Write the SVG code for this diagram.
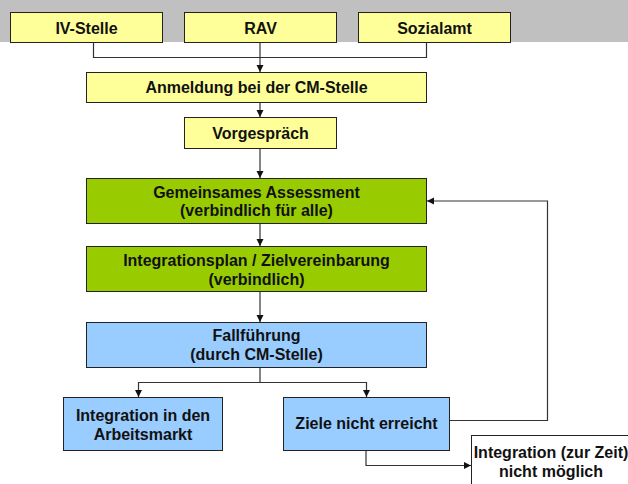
<svg xmlns="http://www.w3.org/2000/svg" width="628" height="484" viewBox="0 0 628 484">
  <style>
    .box { stroke: #222; stroke-width: 1; }
    .y { fill: #FFFF99; }
    .g { fill: #99CC00; }
    .b { fill: #99CCFF; }
    .w { fill: #FFFFFF; }
    text { font-family: "Liberation Sans", Arial, sans-serif; font-weight: bold; font-size: 16px; fill: #111; text-anchor: middle; }
    .con { fill: none; stroke: #333; stroke-width: 1.2; }
  </style>
  <defs>
    <marker id="arr" markerWidth="8" markerHeight="8" refX="7" refY="4" orient="auto" markerUnits="userSpaceOnUse">
      <path d="M0,0.5 L7,4 L0,7.5 Z" fill="#111"/>
    </marker>
  </defs>
  <rect x="0" y="0" width="628" height="42" fill="#C0C0C0"/>

  <g id="connectors">
    <path class="con" d="M93.5,42 V57.5 H426.5 V42"/>
    <path class="con" d="M260,42 V72" marker-end="url(#arr)"/>
    <path class="con" d="M260,102 V117" marker-end="url(#arr)"/>
    <path class="con" d="M260,148 V178" marker-end="url(#arr)"/>
    <path class="con" d="M260,224 V246" marker-end="url(#arr)"/>
    <path class="con" d="M260,292 V322" marker-end="url(#arr)"/>
    <path class="con" d="M260,367 V382.5 H138.5 V397" marker-end="url(#arr)"/>
    <path class="con" d="M260,382.5 H366.5 V397" marker-end="url(#arr)"/>
    <path class="con" d="M449,420.5 H547.5 V201 H427" marker-end="url(#arr)"/>
    <path class="con" d="M366,450 V465.5 H471" marker-end="url(#arr)"/>
  </g>

  <g id="iv-stelle">
    <rect class="box y" x="10.5" y="12.5" width="152" height="30"/>
    <text x="86.5" y="33.5">IV-Stelle</text>
  </g>
  <g id="rav">
    <rect class="box y" x="184.5" y="12.5" width="152" height="30"/>
    <text x="260.5" y="33.5">RAV</text>
  </g>
  <g id="sozialamt">
    <rect class="box y" x="358.5" y="12.5" width="152" height="30"/>
    <text x="434.5" y="33.5">Sozialamt</text>
  </g>
  <g id="anmeldung">
    <rect class="box y" x="86.5" y="72.5" width="340" height="30"/>
    <text x="256.5" y="93">Anmeldung bei der CM-Stelle</text>
  </g>
  <g id="vorgespraech">
    <rect class="box y" x="184.5" y="117.5" width="152" height="31"/>
    <text x="260.5" y="138.5">Vorgespräch</text>
  </g>
  <g id="assessment">
    <rect class="box g" x="86.5" y="178.5" width="340" height="45"/>
    <text x="256.5" y="198">Gemeinsames Assessment</text>
    <text x="256.5" y="216">(verbindlich für alle)</text>
  </g>
  <g id="integrationsplan">
    <rect class="box g" x="86.5" y="246.5" width="340" height="45"/>
    <text x="256.5" y="266">Integrationsplan / Zielvereinbarung</text>
    <text x="256.5" y="284.5">(verbindlich)</text>
  </g>
  <g id="fallfuehrung">
    <rect class="box b" x="86.5" y="322.5" width="340" height="45"/>
    <text x="256.5" y="341">Fallführung</text>
    <text x="256.5" y="359.5">(durch CM-Stelle)</text>
  </g>
  <g id="integration-arbeitsmarkt">
    <rect class="box b" x="63.5" y="397.5" width="159" height="53"/>
    <text x="143" y="421">Integration in den</text>
    <text x="143" y="439.5">Arbeitsmarkt</text>
  </g>
  <g id="ziele-nicht-erreicht">
    <rect class="box b" x="283.5" y="397.5" width="166" height="53"/>
    <text x="366.5" y="429">Ziele nicht erreicht</text>
  </g>
  <g id="integration-nicht-moeglich">
    <rect class="box w" x="471.5" y="435.5" width="160" height="60"/>
    <text x="551" y="458">Integration (zur Zeit)</text>
    <text x="551" y="477">nicht möglich</text>
  </g>
</svg>
